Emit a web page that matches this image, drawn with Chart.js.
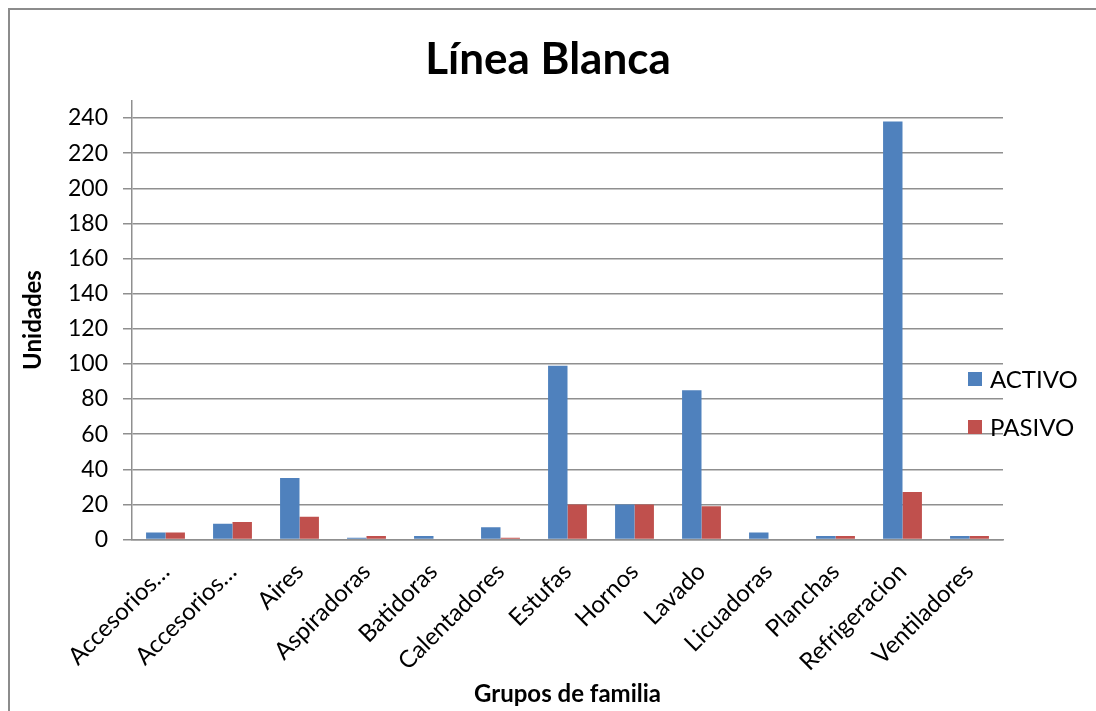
<!DOCTYPE html>
<html>
<head>
<meta charset="utf-8">
<script src="https://cdn.jsdelivr.net/npm/chart.js@4.4.0/dist/chart.umd.min.js"></script>
<style>
  html, body { margin: 0; padding: 0; background: #ffffff; }
  #wrap { width: 1096px; height: 711px; position: relative; }
</style>
</head>
<body>
<div id="wrap"><canvas id="chart" width="1096" height="711"></canvas></div>
<script>
// Product groups and unit counts per status
const categories = ['Accesorios…', 'Accesorios…', 'Aires', 'Aspiradoras', 'Batidoras', 'Calentadores',
  'Estufas', 'Hornos', 'Lavado', 'Licuadoras', 'Planchas', 'Refrigeracion', 'Ventiladores'];
const activo = [4, 9, 35, 1, 2, 7, 99, 20, 85, 4, 2, 238, 2];
const pasivo = [4, 10, 13, 2, 0, 1, 20, 20, 19, 0, 2, 27, 2];
const seriesNames = ['ACTIVO', 'PASIVO'];
const yTicks = [0, 20, 40, 60, 80, 100, 120, 140, 160, 180, 200, 220, 240];
const yAxisMax = 250;

const FONT = 'Lato, Carlito, Calibri, "Open Sans", sans-serif';
const GRID = '#8f8f8f';

// Frame around the whole figure
const framePlugin = {
  id: 'frame',
  beforeDraw(chart) {
    const ctx = chart.ctx;
    ctx.save();
    ctx.fillStyle = '#ffffff';
    ctx.fillRect(0, 0, chart.width, chart.height);
    ctx.strokeStyle = '#8c8c8c';
    ctx.lineWidth = 2;
    ctx.strokeRect(9, 9, chart.width + 20, chart.height + 20);
    ctx.restore();
  }
};

// Legend drawn beside the plot, overlapping the right end of the grid
const sideLegend = {
  id: 'sideLegend',
  afterDraw(chart) {
    const ctx = chart.ctx;
    const area = chart.chartArea;
    const x0 = area.right - 35;
    const yMid = (area.top + area.bottom) / 2;
    const gap = 48;
    ctx.save();
    ctx.font = '24px ' + FONT;
    ctx.textBaseline = 'middle';
    chart.data.datasets.forEach((ds, i) => {
      const y = yMid + 59 + i * gap;
      ctx.fillStyle = ds.backgroundColor;
      ctx.fillRect(x0, y - 7, 14, 14);
      ctx.fillStyle = '#000000';
      ctx.fillText(ds.label, x0 + 22, y + 1);
    });
    ctx.restore();
  }
};

new Chart(document.getElementById('chart'), {
  type: 'bar',
  data: {
    labels: categories,
    datasets: [
      { label: seriesNames[0], data: activo, backgroundColor: '#4f81bd',
        categoryPercentage: 0.58, barPercentage: 1.0 },
      { label: seriesNames[1], data: pasivo, backgroundColor: '#c0504d',
        categoryPercentage: 0.58, barPercentage: 1.0 }
    ]
  },
  options: {
    responsive: false,
    animation: false,
    layout: { padding: 0 },
    plugins: {
      legend: { display: false },
      tooltip: { enabled: false },
      title: {
        display: true,
        text: 'Línea Blanca',
        color: '#000000',
        font: { family: FONT, size: 44, weight: 'bold', lineHeight: 1.2 },
        padding: { top: 33, bottom: 14.7 }
      }
    },
    scales: {
      x: {
        grid: { display: false, drawTicks: false },
        border: { display: true, color: GRID, width: 1.5 },
        ticks: {
          color: '#000000',
          font: { family: FONT, size: 24 },
          maxRotation: 45, minRotation: 45,
          autoSkip: false,
          padding: 18
        },
        title: {
          display: true,
          text: 'Grupos de familia',
          color: '#000000',
          font: { family: FONT, size: 24, weight: 'bold', lineHeight: 1.2 },
          padding: { top: 0, bottom: 2 }
        },
        afterFit(scale) { scale.height = 711 - 539.5; }
      },
      y: {
        min: 0,
        max: yAxisMax,
        grid: { color: GRID, lineWidth: 1.5, tickLength: 9, drawTicks: true },
        border: { display: true, color: GRID, width: 1.5 },
        ticks: {
          color: '#000000',
          font: { family: FONT, size: 23 },
          padding: 15
        },
        afterBuildTicks(scale) {
          scale.ticks = yTicks.map(v => ({ value: v }));
        },
        title: {
          display: true,
          text: 'Unidades',
          color: '#000000',
          font: { family: FONT, size: 24, weight: 'bold', lineHeight: 1.2 },
          padding: { top: 19, bottom: 0 }
        },
        afterFit(scale) { scale.width = 132; }
      },
      // empty right-hand strip that holds the legend space
      side: {
        type: 'linear',
        position: 'right',
        grid: { display: false, drawTicks: false },
        border: { display: false },
        ticks: { display: false },
        afterFit(scale) { scale.width = 93; }
      }
    }
  },
  plugins: [framePlugin, sideLegend]
});
</script>
</body>
</html>
